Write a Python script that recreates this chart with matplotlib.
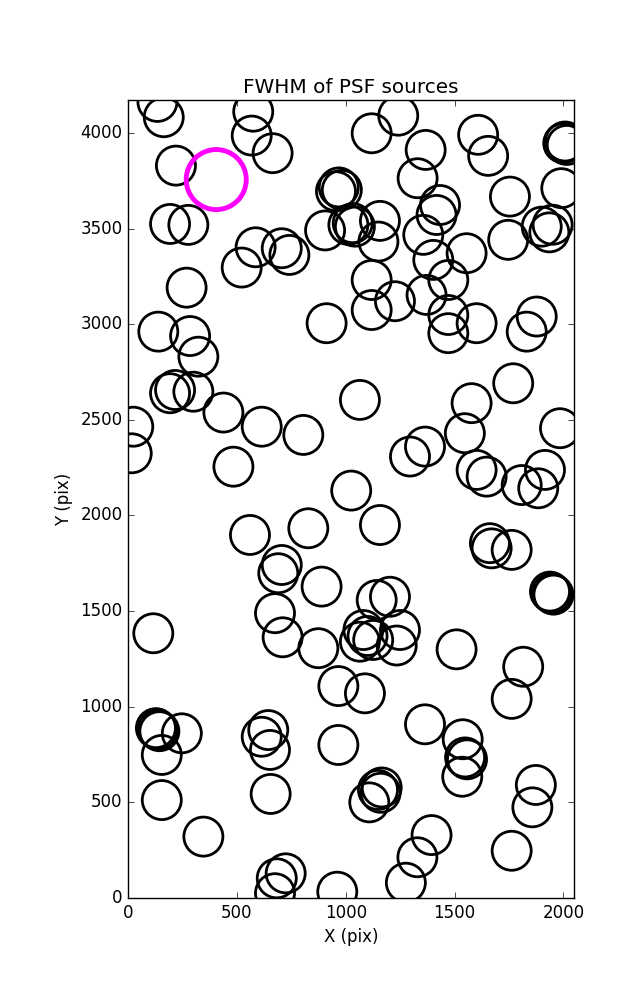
import numpy as np
from matplotlib import pyplot as plt

plt.style.use('classic')

# source positions (pix)
x_src = np.array([
    135, 164, 220, 575, 568, 664, 193, 277, 586, 706, 741, 522, 269, 139, 285,
    323, 912, 955, 968, 982, 905, 1012, 1032, 1042, 1157, 1150, 1119, 1241,
    1367, 1608, 1654, 1330, 1999, 2007, 2015, 1754, 1990, 1433, 1417, 1356,
    1402, 1119, 1471, 1555, 1746, 1900, 1950, 1935, 1119, 1226, 1371, 1471,
    1471, 1601, 1877, 1831, 193, 216, 300, 438, 614, 805, 24, 17, 484, 1065,
    1025, 560, 828, 706, 690, 889, 675, 116, 1769, 1578, 1984, 1547, 1295,
    1364, 1601, 1647, 1808, 1915, 1884, 1157, 1662, 1670, 1762, 1938, 1946,
    1954, 1142, 1203, 1081, 1249, 1065, 1126, 1234, 1100, 710, 874, 966, 128,
    136, 144, 247, 155, 644, 614, 652, 966, 155, 655, 346, 683, 724, 675, 961,
    1509, 1815, 1762, 1088, 1364, 1537, 1557, 1548, 1535, 1873, 1857, 1762,
    1160, 1148, 1165, 1108, 1394, 1329, 1276,
])
y_src = np.array([
    4162, 4082, 3829, 4111, 3986, 3894, 3524, 3519, 3402, 3397, 3362, 3296,
    3191, 2961, 2938, 2830, 3005, 3695, 3715, 3702, 3490, 3519, 3528, 3510,
    3540, 3432, 3998, 4090, 3911, 3990, 3880, 3763, 3946, 3955, 3937, 3667,
    3711, 3623, 3571, 3467, 3336, 3231, 3231, 3371, 3441, 3510, 3520, 3480,
    3074, 3120, 3153, 3048, 2953, 3005, 3040, 2961, 2639, 2656, 2647, 2538,
    2464, 2421, 2464, 2325, 2255, 2604, 2130, 1898, 1933, 1741, 1698, 1628,
    1489, 1384, 2691, 2587, 2456, 2430, 2308, 2360, 2238, 2203, 2159, 2238,
    2142, 1950, 1855, 1828, 1820, 1602, 1593, 1586, 1558, 1575, 1401, 1401,
    1340, 1349, 1320, 1370, 1363, 1306, 1108, 888, 880, 872, 861, 748, 878,
    843, 774, 800, 512, 544, 321, 103, 129, 25, 33, 1300, 1209, 1041, 1070,
    908, 830, 725, 735, 634, 591, 474, 247, 550, 565, 578, 500, 329, 213, 80,
])

# highlighted source
x_sel = [405]
y_sel = [3756]

fig = plt.figure(figsize=(6.37, 10), dpi=100, facecolor='white')
ax = fig.add_axes([0.201, 0.102, 0.700, 0.798])

ax.scatter(x_src, y_src, s=790, facecolors='none', edgecolors='black',
           linewidths=2)
ax.scatter(x_sel, y_sel, s=1870, facecolors='none', edgecolors='magenta',
           linewidths=3.5)

ax.set_xlim(0, 2048)
ax.set_ylim(0, 4172)
ax.set_xticks(np.arange(0, 2001, 500))
ax.set_yticks(np.arange(0, 4001, 500))
ax.set_xlabel('X (pix)')
ax.set_ylabel('Y (pix)')
ax.set_title('FWHM of PSF sources')

fig.savefig('out.png', dpi=100, facecolor='white')
